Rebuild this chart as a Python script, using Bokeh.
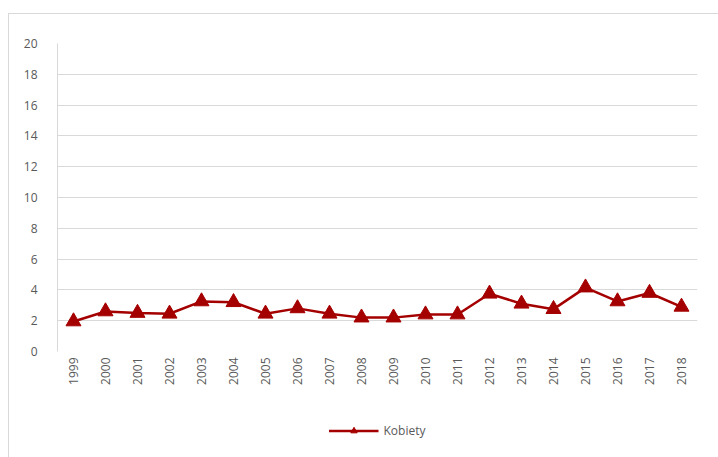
import math
from bokeh.plotting import figure
from bokeh.layouts import column
from bokeh.models import Legend, LegendItem, FixedTicker, Range1d
from bokeh.embed import file_html
from bokeh.resources import INLINE

years = [str(y) for y in range(1999, 2019)]
kobiety = [1.95, 2.6, 2.5, 2.45, 3.25, 3.2, 2.45, 2.8, 2.45, 2.2,
           2.2, 2.4, 2.4, 3.75, 3.1, 2.75, 4.15, 3.25, 3.8, 2.9]
y_ticks = list(range(0, 21, 2))
series_name = "Kobiety"

RED = "#a50000"
GRID = "#d9d9d9"
TXT = "#595959"
FONT = "Open Sans"

p = figure(x_range=years, y_range=Range1d(0, 20), output_backend="svg",
           toolbar_location=None, frame_width=640, frame_height=308,
           min_border_left=48, min_border_top=29, min_border_right=21,
           min_border_bottom=45)
p.outline_line_color = None
p.background_fill_color = "white"

p.line(years, kobiety, line_color=RED, line_width=2.5)
p.scatter(years, kobiety, marker="triangle", size=15, fill_color=RED,
          line_color=RED)

p.yaxis.ticker = FixedTicker(ticks=y_ticks)
p.yaxis.axis_line_color = GRID
p.yaxis.major_tick_line_color = None
p.yaxis.minor_tick_line_color = None
p.yaxis.major_label_text_color = TXT
p.yaxis.major_label_text_font = FONT
p.yaxis.major_label_text_font_size = "12px"
p.yaxis.major_label_standoff = 14

p.xaxis.axis_line_color = None
p.xaxis.major_tick_line_color = None
p.xaxis.major_tick_out = 0
p.xaxis.major_tick_in = 0
p.xaxis.major_label_orientation = math.pi / 2
p.xaxis.major_label_text_color = TXT
p.xaxis.major_label_text_font = FONT
p.xaxis.major_label_text_font_size = "12px"
p.xaxis.major_label_standoff = 6

p.xgrid.grid_line_color = None
p.ygrid.grid_line_color = GRID
p.ygrid.grid_line_width = 1

# Legend strip: same series drawn outside its visible range, so only the legend shows
p2 = figure(x_range=years, y_range=Range1d(100, 101), output_backend="svg",
            toolbar_location=None, width=709, height=68,
            x_axis_location=None, y_axis_location=None,
            min_border_left=0, min_border_right=0, min_border_top=0,
            min_border_bottom=0)
p2.outline_line_color = None
p2.xgrid.grid_line_color = None
p2.ygrid.grid_line_color = None
r2 = p2.line(years, kobiety, line_color=RED, line_width=2.5)
m2 = p2.scatter(years, kobiety, marker="triangle", size=12, fill_color=RED,
                line_color=RED)
legend = Legend(items=[LegendItem(label=series_name, renderers=[r2, m2])],
                orientation="horizontal", location="center",
                label_text_font=FONT, label_text_font_size="12px",
                label_text_color=TXT, border_line_color=None,
                background_fill_alpha=0, glyph_height=16,
                glyph_width=50, margin=0, padding=2)
p2.add_layout(legend)

layout = column(p, p2, spacing=0)
layout.styles = {"border-top": "1px solid #d9d9d9",
                 "border-left": "1px solid #d9d9d9",
                 "margin-left": "8px", "margin-top": "13px"}

open("out.html", "w").write(file_html(layout, INLINE))
